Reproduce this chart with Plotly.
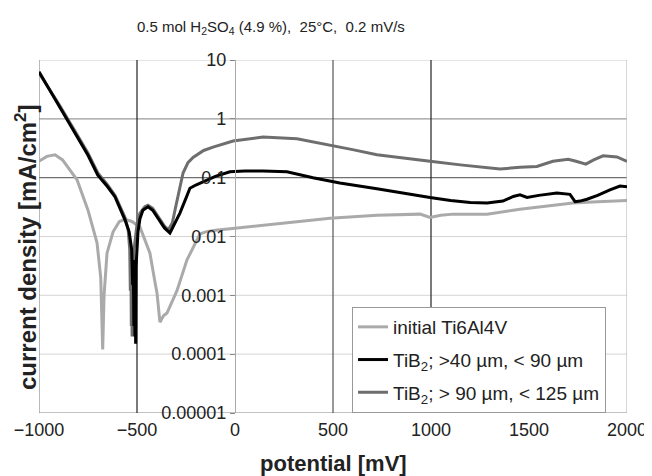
import plotly.graph_objects as go

# ---- data ----
x_initial = [-1000, -960, -918, -880, -852, -806, -750, -704, -685, -675, -668, -653, -622, -590,
             -560, -526, -485, -460, -434, -410, -398, -383, -365, -347, -320, -296, -245, -210,
             -179, -150, -100, 0, 100, 230, 485, 724, 944, 995, 1050, 1112, 1286, 1454, 1622,
             1724, 1850, 2000]
y_initial = [0.19, 0.23, 0.245, 0.2, 0.15, 0.092, 0.028, 0.0078, 0.002, 0.00012, 0.001, 0.0052,
             0.012, 0.018, 0.0195, 0.018, 0.0145, 0.009, 0.0052, 0.0018, 0.0011, 0.00035, 0.00045,
             0.0005, 0.0008, 0.0012, 0.004, 0.007, 0.011, 0.012, 0.0128, 0.0138, 0.015, 0.017,
             0.0205, 0.023, 0.024, 0.021, 0.023, 0.024, 0.024, 0.029, 0.034, 0.037, 0.039, 0.041]

x_fine = [-1000, -900, -800, -750, -700, -650, -612, -561, -540, -527, -522, -519, -516, -513,
          -511, -509, -507, -505, -495, -485, -470, -444, -420, -390, -360, -332, -310, -281,
          -250, -230, -200, -143, -100, -26, 50, 143, 265, 398, 535, 724, 850, 995, 1100, 1200,
          1286, 1367, 1420, 1454, 1490, 1550, 1642, 1709, 1735, 1760, 1796, 1850, 1913, 1964,
          2000]
y_fine = [6.3, 1.7, 0.47, 0.24, 0.11, 0.07, 0.047, 0.019, 0.012, 0.006, 0.0015, 0.004, 0.0003,
          0.003, 0.0002, 0.0025, 0.00015, 0.003, 0.012, 0.02, 0.028, 0.032, 0.028, 0.02, 0.014,
          0.0115, 0.016, 0.025, 0.045, 0.066, 0.075, 0.091, 0.105, 0.126, 0.13, 0.13, 0.126, 0.1,
          0.081, 0.065, 0.055, 0.046, 0.041, 0.038, 0.037, 0.04, 0.048, 0.051, 0.046, 0.05,
          0.055, 0.052, 0.039, 0.04, 0.043, 0.05, 0.062, 0.072, 0.07]

x_coarse = [-1000, -900, -800, -750, -700, -650, -612, -561, -545, -537, -534, -531, -529, -527,
            -525, -522, -515, -500, -485, -460, -444, -420, -390, -360, -340, -320, -300, -280,
            -265, -240, -214, -160, -112, -10, 143, 316, 485, 600, 724, 850, 995, 1150, 1286,
            1352, 1454, 1540, 1622, 1700, 1740, 1790, 1830, 1878, 1949, 2000]
y_coarse = [6.0, 1.8, 0.5, 0.26, 0.12, 0.075, 0.05, 0.021, 0.013, 0.006, 0.0012, 0.0035,
            0.0003, 0.002, 0.0002, 0.001, 0.006, 0.016, 0.025, 0.032, 0.034, 0.03, 0.021, 0.015,
            0.013, 0.017, 0.035, 0.07, 0.12, 0.18, 0.22, 0.29, 0.33, 0.42, 0.49, 0.46, 0.36, 0.3,
            0.245, 0.215, 0.19, 0.165, 0.145, 0.14, 0.15, 0.155, 0.19, 0.205, 0.19, 0.17, 0.2,
            0.235, 0.225, 0.19]

series_names = ["initial Ti6Al4V",
                "TiB<sub>2</sub>; &gt;40 µm, &lt; 90 µm",
                "TiB<sub>2</sub>; &gt; 90 µm, &lt; 125 µm"]

x_ticks = [-1000, -500, 0, 500, 1000, 1500, 2000]
y_ticks = [0.00001, 0.0001, 0.001, 0.01, 0.1, 1, 10]
y_ticktext = ["0.00001", "0.0001", "0.001", "0.01", "0.1", "1", "10"]

# gridline styling
h_grid_colors = ["#888888", "#dddddd", "#dddddd", "#d4d4d4", "#707070", "#9a9a9a", "#cccccc"]
v_lines = [-1000, -500, 500, 1000, 2000]
v_line_colors = ["#8a8a8a", "#222222", "#555555", "#222222", "#bbbbbb"]

# plot-area geometry in window pixels (page body adds an 8px offset)
PX_L, PX_R, PX_T, PX_B = 39, 627, 60, 413
W_PLOT, H_PLOT = PX_R - PX_L, PX_B - PX_T


def px(xw):
    return (xw - PX_L) / W_PLOT


def py(yw):
    return (PX_B - yw) / H_PLOT


fig = go.Figure()

fig.add_trace(go.Scatter(x=x_initial, y=y_initial, mode="lines", name=series_names[0],
                         line=dict(color="#aaaaaa", width=3), legendrank=1,
                         legendgroup="a"))
fig.add_trace(go.Scatter(x=x_coarse, y=y_coarse, mode="lines", name=series_names[2],
                         line=dict(color="#6e6e6e", width=3), legendrank=3,
                         legendgroup="c"))
fig.add_trace(go.Scatter(x=x_fine, y=y_fine, mode="lines", name=series_names[1],
                         line=dict(color="#000000", width=3), legendrank=2,
                         legendgroup="b"))

shapes = []
for v, c in zip(y_ticks, h_grid_colors):
    shapes.append(dict(type="line", xref="paper", x0=0, x1=1, yref="y", y0=v, y1=v,
                       line=dict(color=c, width=1.2), layer="below"))
for v, c in zip(v_lines, v_line_colors):
    shapes.append(dict(type="line", xref="x", x0=v, x1=v, yref="paper", y0=0, y1=1,
                       line=dict(color=c, width=1.2), layer="below"))

fig.update_layout(
    width=644, height=468,
    margin=dict(l=PX_L - 8, r=644 - (PX_R - 8), t=PX_T - 8, b=468 - (PX_B - 8)),
    paper_bgcolor="white", plot_bgcolor="white",
    font=dict(family="Liberation Sans, Arial, sans-serif", color="#222222"),
    xaxis=dict(range=[-1000, 2000], tickmode="array", tickvals=x_ticks,
               showgrid=False, zeroline=False, showline=False, ticks="",
               tickfont=dict(size=18), ticklabelstandoff=4, automargin=False),
    yaxis=dict(type="log", range=[-5, 1], tickmode="array", tickvals=y_ticks,
               ticktext=y_ticktext, anchor="free", position=1 / 3, side="left",
               showgrid=False, zeroline=False, showline=True, linecolor="#aaaaaa",
               linewidth=1.2, ticks="outside", ticklen=5, tickcolor="#888888",
               tickfont=dict(size=18), automargin=False),
    shapes=shapes,
    showlegend=True,
    legend=dict(x=px(352), y=py(307), xanchor="left", yanchor="top",
                bgcolor="white", bordercolor="#999999", borderwidth=1,
                font=dict(size=19, color="#222222"), traceorder="grouped",
                tracegroupgap=5),
    annotations=[
        dict(text="0.5 mol H<sub>2</sub>SO<sub>4</sub> (4.9 %),\u00a0 25°C,\u00a0 0.2 mV/s",
             xref="paper", yref="paper", x=px(271), y=py(28), xanchor="center",
             yanchor="middle", showarrow=False, font=dict(size=15, color="#222222")),
        dict(text="<b>potential [mV]</b>", xref="paper", yref="paper",
             x=px(333), y=py(463), xanchor="center", yanchor="middle",
             showarrow=False, font=dict(size=22, color="#222222")),
        dict(text="<b>current density [mA/cm<sup>2</sup>]</b>", xref="paper", yref="paper",
             x=px(26), y=py(248), xanchor="center", yanchor="middle",
             textangle=-90, showarrow=False, font=dict(size=24, color="#222222")),
    ],
)

fig.write_html("out.html")
